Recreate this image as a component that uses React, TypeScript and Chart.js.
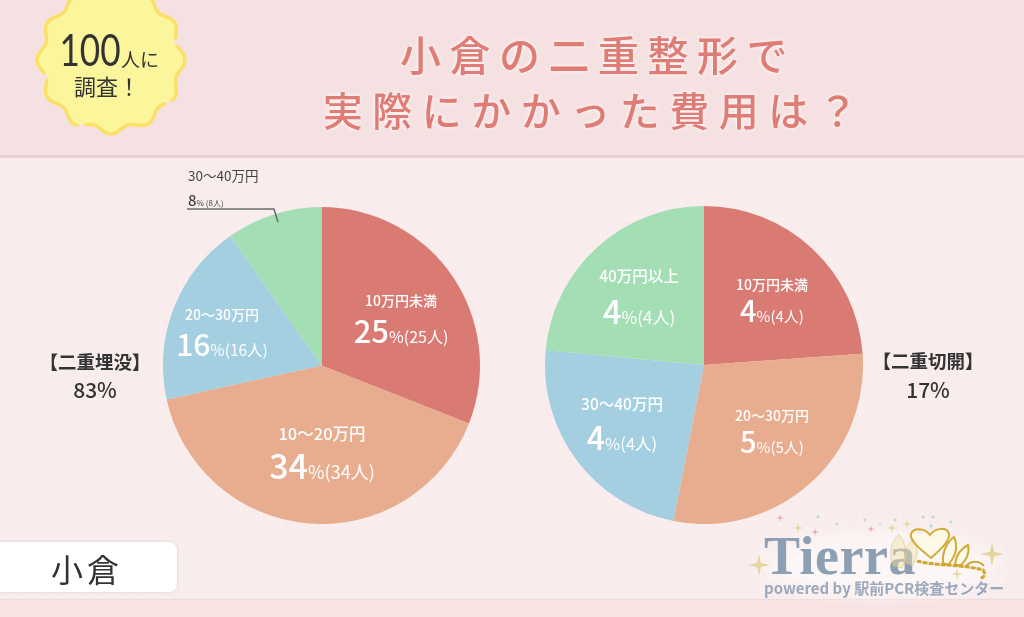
import React, { useEffect, useRef } from 'react';
import { Chart, registerables } from 'chart.js';

Chart.register(...registerables);

const leftCategories = ['10万円未満', '10～20万円', '20～30万円', '30～40万円'];
const leftPercents = [25, 34, 16, 8];
// slice sizes, they differ a little from the printed percents
const leftSlices = [25.7, 33.7, 15.5, 8.1];
const rightCategories = ['10万円未満', '20～30万円', '30～40万円', '40万円以上'];
const rightPercents = [4, 5, 4, 4];
const rightSlices = [4.06, 4.97, 3.98, 4.0];
const sliceColors = ['#DA7B73', '#E7AD8E', '#A3CFE0', '#A3DEB4'];

const JP = '"Noto Sans CJK JP", "Noto Sans", sans-serif';

// center x, category y, value y, category size, number size, rest size
const leftLabelPos = [
  [401, 301, 330, 14, 31, 16],
  [322, 434, 466, 16.5, 34, 18],
  [222, 315, 344, 14, 30, 15.5],
];
const rightLabelPos = [
  [772, 285, 310, 14, 29, 15],
  [772, 416, 441, 14, 29, 15],
  [622, 405, 437, 15.5, 32, 16.5],
  [639, 277, 311, 15.5, 33, 17],
];

const Pie: React.FC<{ labels: string[]; values: number[]; left: number; top: number; size: number }> = ({
  labels,
  values,
  left,
  top,
  size,
}) => {
  const ref = useRef<HTMLCanvasElement>(null);

  useEffect(() => {
    if (!ref.current) return;
    const chart = new Chart(ref.current, {
      type: 'pie',
      data: {
        labels,
        datasets: [{ data: values, backgroundColor: sliceColors, borderWidth: 0 }],
      },
      options: {
        animation: false,
        responsive: false,
        layout: { padding: 0 },
        plugins: { legend: { display: false }, tooltip: { enabled: false } },
      },
    });
    return () => chart.destroy();
  }, [labels, values]);

  return <canvas ref={ref} width={size} height={size} style={{ position: 'absolute', left, top, width: size, height: size }} />;
};

const Text: React.FC<{ x: number; y: number; anchor?: string; style?: React.CSSProperties; children: React.ReactNode }> = ({
  x,
  y,
  anchor = 'center',
  style,
  children,
}) => (
  <div
    style={{
      position: 'absolute',
      left: x,
      top: y - 1.5,
      transform: anchor === 'center' ? 'translate(-50%,-50%)' : 'translate(0,-50%)',
      whiteSpace: 'nowrap',
      fontFamily: JP,
      lineHeight: 1,
      ...style,
    }}
  >
    {children}
  </div>
);

const SliceLabel: React.FC<{ pos: number[]; name: string; value: number }> = ({ pos, name, value }) => (
  <>
    <Text x={pos[0]} y={pos[1]} style={{ color: '#fff', fontSize: pos[3], fontWeight: 500 }}>
      {name}
    </Text>
    <Text x={pos[0]} y={pos[2]} style={{ color: '#fff', fontSize: pos[5], fontWeight: 400 }}>
      <span style={{ fontSize: pos[4], fontWeight: 500 }}>{value}</span>%({value}人)
    </Text>
  </>
);

function badgePath(cx: number, cy: number, r: number, amp: number, lobes: number) {
  const pts: string[] = [];
  for (let i = 0; i <= 360; i += 3) {
    const t = (i * Math.PI) / 180;
    const rr = r + amp * Math.cos(lobes * t);
    pts.push(`${(cx + rr * Math.sin(t)).toFixed(1)},${(cy - rr * Math.cos(t)).toFixed(1)}`);
  }
  return 'M' + pts.join('L') + 'Z';
}

function star(cx: number, cy: number, r: number) {
  const k = r * 0.18;
  return `M${cx},${cy - r}L${cx + k},${cy - k}L${cx + r},${cy}L${cx + k},${cy + k}L${cx},${cy + r}L${cx - k},${cy + k}L${cx - r},${cy}L${cx - k},${cy - k}Z`;
}

const goldStars = [[759, 565, 11], [992, 554, 12], [798, 528, 5], [892, 528, 5], [907, 524, 5], [957, 574, 6]];
const pinkStars = [[780, 518, 4], [815, 532, 4], [871, 529, 4], [920, 532, 4]];
const blueStars = [[818, 517, 2.5], [837, 524, 2.5], [865, 520, 2.5], [895, 520, 2.5], [923, 517, 2.5], [933, 517, 2.5], [951, 522, 2.5], [931, 526, 3], [880, 524, 2]];

export default function App() {
  useEffect(() => {
    document.body.style.margin = '0';
  }, []);

  const grid =
    'linear-gradient(rgba(255,255,255,0.09) 2px, transparent 2px), linear-gradient(90deg, rgba(255,255,255,0.09) 2px, transparent 2px)';

  return (
    <div style={{ position: 'relative', width: 1024, height: 617, overflow: 'hidden', background: '#F9ECEC' }}>
      <div style={{ position: 'absolute', left: 0, top: 158, width: 1024, height: 442, backgroundImage: grid, backgroundSize: '20px 20px' }} />
      <div style={{ position: 'absolute', left: 0, top: 0, width: 1024, height: 155, background: '#F5E1E1', borderBottom: '3px solid #EACFD0' }} />
      <div style={{ position: 'absolute', left: 0, top: 600, width: 1024, height: 17, background: '#F8E2E2', boxShadow: '0 -1px 1px #EFDADA' }} />

      <Pie labels={leftCategories} values={leftSlices} left={163} top={207} size={317} />
      <Pie labels={rightCategories} values={rightSlices} left={545} top={206} size={318} />

      <svg width={1024} height={617} style={{ position: 'absolute', left: 0, top: 0 }}>
        <path d={badgePath(111, 60, 69, 3.5, 12)} fill="#FBF59B" />
        <path d={badgePath(111, 60, 70.5, 3.5, 12)} fill="none" stroke="#FBE066" strokeWidth={3.5} strokeLinecap="round" strokeDasharray="95 9 60 8" />
        <path d="M187 209H274L278 222" fill="none" stroke="#6B6B6B" strokeWidth={1.5} />
        <ellipse cx={880} cy={565} rx={120} ry={32} fill="#fff" opacity={0.55} style={{ filter: 'blur(10px)' }} />
        {goldStars.map((s, i) => <path key={i} d={star(s[0], s[1], s[2])} fill="#E5D6A0" />)}
        {pinkStars.map((s, i) => <path key={i} d={star(s[0], s[1], s[2])} fill="#DDA9C3" />)}
        {blueStars.map((s, i) => <path key={i} d={star(s[0], s[1], s[2])} fill="#9CCFE0" />)}
      </svg>

      <Text x={90} y={50} style={{ color: '#333', fontFamily: 'Lato, sans-serif', fontSize: 44, transform: 'translate(-50%,-50%) scaleX(0.8)' }}>100</Text>
      <Text x={140} y={59} style={{ color: '#333', fontSize: 19 }}>人に</Text>
      <Text x={107} y={86} style={{ color: '#333', fontSize: 22 }}>調査！</Text>

      <Text x={598} y={54} style={{ color: '#DE7C75', fontSize: 41, fontWeight: 500, letterSpacing: 8.5, textShadow: '0 0 4px #fff' }}>小倉の二重整形で</Text>
      <Text x={595} y={110} style={{ color: '#DE7C75', fontSize: 40, fontWeight: 500, letterSpacing: 9.5, textShadow: '0 0 4px #fff' }}>実際にかかった費用は？</Text>

      {leftLabelPos.map((p, i) => <SliceLabel key={i} pos={p} name={leftCategories[i]} value={leftPercents[i]} />)}
      {rightLabelPos.map((p, i) => <SliceLabel key={i} pos={p} name={rightCategories[i]} value={rightPercents[i]} />)}

      <Text x={188} y={177} anchor="left" style={{ color: '#444', fontSize: 13.5 }}>{leftCategories[3]}</Text>
      <Text x={188} y={200} anchor="left" style={{ color: '#444', fontSize: 8 }}>
        <span style={{ fontSize: 15, fontWeight: 500 }}>{leftPercents[3]}</span>%&nbsp;({leftPercents[3]}人)
      </Text>

      <Text x={95} y={362} style={{ color: '#333', fontSize: 18.5, fontWeight: 700 }}>【二重埋没】</Text>
      <Text x={95} y={390} style={{ color: '#333', fontSize: 21, fontWeight: 500 }}>83%</Text>
      <Text x={928} y={361} style={{ color: '#333', fontSize: 18.5, fontWeight: 700 }}>【二重切開】</Text>
      <Text x={928} y={390} style={{ color: '#333', fontSize: 21, fontWeight: 500 }}>17%</Text>

      <div style={{ position: 'absolute', left: -10, top: 542, width: 187, height: 50, background: '#fff', borderRadius: 8, boxShadow: '0 0 2px 1px #E8DEE6' }} />
      <Text x={87} y={569} style={{ color: '#333', fontSize: 32, letterSpacing: 4 }}>小倉</Text>

      <Text x={764} y={557} anchor="left" style={{ color: '#8D9FB3', fontFamily: '"Liberation Serif", serif', fontWeight: 700, fontSize: 54, letterSpacing: 0.5 }}>Tierra</Text>
      <Text x={764} y={588} anchor="left" style={{ color: '#9AA9BB', fontSize: 15, fontWeight: 700 }}>powered by 駅前PCR検査センター</Text>

      <svg width={1024} height={617} style={{ position: 'absolute', left: 0, top: 0 }}>
        <g fill="rgba(240,225,170,0.45)" stroke="rgba(214,186,100,0.55)" strokeWidth={1}>
          <path d="M893 566C888 552 892 540 899 535C906 542 908 556 902 568Z" />
          <path d="M904 562C904 550 908 542 914 540C919 548 918 558 912 566Z" />
        </g>
        <g fill="rgba(255,250,225,0.65)" stroke="#D0AB35" strokeWidth={2}>
          <path d="M931 558C920 549 909 540 911 534C913 528 924 527 930 535C936 527 947 527 949 534C950 541 941 549 931 558Z" />
          <path d="M943 563C942 552 947 542 954 537C958 546 956 556 948 565Z" />
          <path d="M955 564C956 556 960 549 968 545C970 553 966 561 960 566Z" />
        </g>
        <path d="M917 561C935 566 962 564 983 570C986 574 984 578 980 578" fill="none" stroke="#CFA62E" strokeWidth={3} strokeDasharray="5 1" />
        <path d="M966 566C972 560 980 561 984 566" fill="none" stroke="#CFA62E" strokeWidth={2} />
      </svg>
    </div>
  );
}
